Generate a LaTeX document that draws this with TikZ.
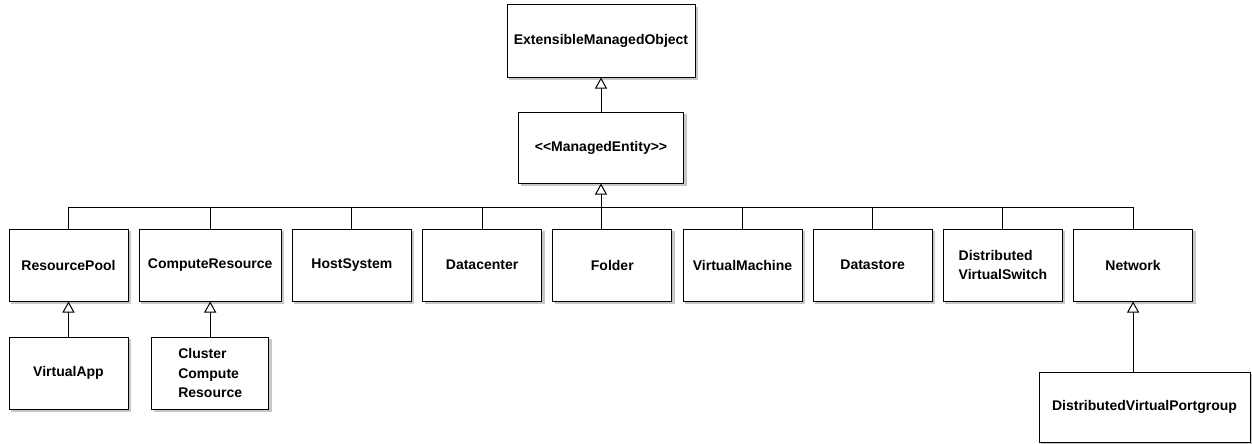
\documentclass[tikz,border=0pt]{standalone}
\usepackage{fontspec}
\setmainfont{Liberation Sans}
\usetikzlibrary{arrows.meta,positioning}

\begin{document}
\begin{tikzpicture}[
      x=1pt, y=1pt,
      mybox/.style={
         rectangle,
         draw=black,
         line width=1pt,
         fill=white,
         preaction={fill=black!22,draw=black!22,transform canvas={xshift=2.5pt,yshift=-2.5pt}},
         inner sep=0pt,
         minimum width=119pt,
         minimum height=72pt,
         align=center,
         font=\fontsize{14}{19.5}\selectfont\bfseries},
      myarrow/.style={-{Triangle[open,length=11pt,width=12pt]},line width=1pt},
      myline/.style={line width=1pt},
      node distance=10.2pt
      ]
      \useasboundingbox (0,0) rectangle (1252,-444);

      \node[mybox,minimum width=188pt] (emo) at (601,-41) {ExtensibleManagedObject};
      \node[mybox,minimum width=165pt,minimum height=71pt,below=34pt of emo] (me) {<{}<ManagedEntity>{}>};

      % first row
      \node[mybox] (rp) at (68.5,-265) {ResourcePool};
      \node[mybox,minimum width=142pt,right=of rp] (cr) {ComputeResource};
      \node[mybox,right=of cr] (hs) {HostSystem};
      \node[mybox,right=of hs] (dc) {Datacenter};
      \node[mybox,right=of dc] (fo) {Folder};
      \node[mybox,right=of fo] (vm) {VirtualMachine};
      \node[mybox,right=of vm] (ds) {Datastore};
      \node[mybox,align=left,right=of ds] (dvs) {Distributed\\VirtualSwitch};
      \node[mybox,right=of dvs] (net) {Network};

      % second row
      \node[mybox,below=35pt of rp] (va) {VirtualApp};
      \node[mybox,minimum width=117pt,align=left,below=35pt of cr] (ccr) {Cluster\\Compute\\Resource};
      \node[mybox,minimum width=211pt,minimum height=70pt,below=70pt of net,xshift=11.4pt] (dvpg) {DistributedVirtualPortgroup};

      \path (me.south) ++(0,-24) coordinate (bus);

      \draw[myarrow] (me) -- (emo);
      \draw[myarrow] (fo.north -| me.south) -- (me);
      \draw[myline] (rp.north) |- (bus) -| (net.north);
      \foreach \n in {cr,hs,dc,vm,ds,dvs}
         \draw[myline] (\n.north) -- (\n.north |- bus);
      \draw[myarrow] (va) -- (rp);
      \draw[myarrow] (ccr) -- (cr);
      \draw[myarrow] (dvpg.north -| net) -- (net);
\end{tikzpicture}
\end{document}
